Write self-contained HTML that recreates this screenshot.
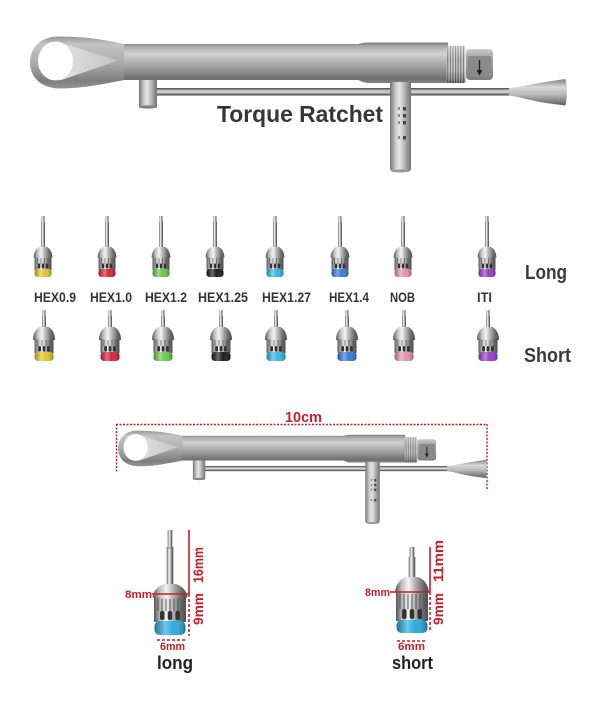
<!DOCTYPE html>
<html><head><meta charset="utf-8"><style>
html,body{margin:0;padding:0;background:#fff;}
svg{display:block;}
text{font-family:"Liberation Sans",Arial,sans-serif;font-weight:bold;}
</style></head><body>
<svg width="600" height="707" viewBox="0 0 600 707" xmlns="http://www.w3.org/2000/svg">
<defs>
<linearGradient id="tubeG" x1="0" y1="0" x2="0" y2="1">
<stop offset="0" stop-color="#7e7e7e"/><stop offset="0.1" stop-color="#ababab"/><stop offset="0.28" stop-color="#d2d2d2"/><stop offset="0.48" stop-color="#b2b2b2"/><stop offset="0.72" stop-color="#8e8e8e"/><stop offset="0.9" stop-color="#6e6e6e"/><stop offset="1" stop-color="#858585"/>
</linearGradient>
<linearGradient id="headG" x1="0" y1="0" x2="0" y2="1">
<stop offset="0" stop-color="#979797"/><stop offset="0.15" stop-color="#c4c4c4"/><stop offset="0.5" stop-color="#acacac"/><stop offset="0.85" stop-color="#7e7e7e"/><stop offset="1" stop-color="#959595"/>
</linearGradient>
<linearGradient id="faceG" x1="0" y1="0" x2="1" y2="0">
<stop offset="0" stop-color="#e4e4e4"/><stop offset="1" stop-color="#c2c2c2"/>
</linearGradient>
<linearGradient id="cylH" x1="0" y1="0" x2="1" y2="0">
<stop offset="0" stop-color="#747474"/><stop offset="0.25" stop-color="#c6c6c6"/><stop offset="0.45" stop-color="#e6e6e6"/><stop offset="0.7" stop-color="#b2b2b2"/><stop offset="1" stop-color="#707070"/>
</linearGradient>
<linearGradient id="rodG" x1="0" y1="0" x2="0" y2="1">
<stop offset="0" stop-color="#444"/><stop offset="0.3" stop-color="#b4b4b4"/><stop offset="0.55" stop-color="#dcdcdc"/><stop offset="0.8" stop-color="#808080"/><stop offset="1" stop-color="#363636"/>
</linearGradient>
<linearGradient id="nozG" x1="0" y1="0" x2="0" y2="1">
<stop offset="0" stop-color="#7e7e7e"/><stop offset="0.3" stop-color="#d8d8d8"/><stop offset="0.6" stop-color="#b6b6b6"/><stop offset="1" stop-color="#5e5e5e"/>
</linearGradient>
<linearGradient id="hexG" x1="0" y1="0" x2="0" y2="1">
<stop offset="0" stop-color="#cccccc"/><stop offset="0.25" stop-color="#a8a8a8"/><stop offset="1" stop-color="#7e7e7e"/>
</linearGradient>
<linearGradient id="shadeV" x1="0" y1="0" x2="0" y2="1">
<stop offset="0" stop-color="#fff" stop-opacity="0.35"/><stop offset="0.4" stop-color="#fff" stop-opacity="0"/><stop offset="1" stop-color="#000" stop-opacity="0.4"/>
</linearGradient>
<pattern id="knurl" width="2.6" height="4" patternUnits="userSpaceOnUse">
<rect width="2.6" height="4" fill="#cdcdcd"/><rect width="1.1" height="4" fill="#727272"/>
</pattern>
<linearGradient id="drvG" x1="0" y1="0" x2="1" y2="0">
<stop offset="0" stop-color="#555"/><stop offset="0.2" stop-color="#bebebe"/><stop offset="0.4" stop-color="#f4f4f4"/><stop offset="0.6" stop-color="#b0b0b0"/><stop offset="0.85" stop-color="#666"/><stop offset="1" stop-color="#4e4e4e"/>
</linearGradient>
<linearGradient id="capSh" x1="0" y1="0" x2="1" y2="0">
<stop offset="0" stop-color="#000" stop-opacity="0.3"/><stop offset="0.35" stop-color="#fff" stop-opacity="0.35"/><stop offset="0.6" stop-color="#fff" stop-opacity="0"/><stop offset="1" stop-color="#000" stop-opacity="0.35"/>
</linearGradient>

<g id="ratchet">
 <rect x="148" y="88" width="364" height="7.5" fill="url(#rodG)"/>
 <rect x="139" y="74" width="18" height="34" rx="2" fill="url(#cylH)"/>
 <ellipse cx="148" cy="107" rx="9" ry="1.6" fill="#808080"/>
 <path d="M112,44 L358,44 C362,43 364,42.5 368,42.5 L448,42.5 L448,83 L368,83 C364,83 361,81 358,80 L112,80 Z" fill="url(#tubeG)"/>
 <path d="M124,44 C102,39 82,36.5 58,36.5 C40,36.5 30,49 30,62 C30,78 42,88.5 60,88.5 C82,88.5 104,84 124,80 Z" fill="url(#headG)"/>
 <path d="M58,42 L118,60.5 L60,80.5 Z" fill="url(#faceG)"/>
 <ellipse cx="55.5" cy="61" rx="17.5" ry="19.5" fill="#fff"/>
 <path d="M390,82 L411,82 L411,168 Q411,172 406,172 L395,172 Q390,172 390,168 Z" fill="url(#cylH)"/>
 <ellipse cx="400.5" cy="171" rx="9" ry="1.5" fill="#999"/>
 <g fill="#444">
  <rect x="403" y="107" width="3" height="3.5"/><rect x="403" y="114" width="3" height="3.5"/><rect x="403" y="121" width="3" height="3.5"/><rect x="403" y="136" width="3" height="3.5"/>
 </g>
 <g fill="#888">
  <rect x="398" y="107" width="2" height="3"/><rect x="398" y="114" width="2" height="3"/><rect x="398" y="121" width="2" height="3"/><rect x="398" y="136" width="2" height="3"/>
 </g>
 <rect x="446.5" y="46" width="19" height="37" rx="2" fill="url(#knurl)"/>
 <rect x="446.5" y="46" width="19" height="37" rx="2" fill="url(#shadeV)"/>
 <rect x="466" y="49" width="27" height="31" rx="4" fill="url(#hexG)"/>
 <rect x="468" y="56" width="23" height="21" rx="2" fill="#8a8a8a"/>
 <line x1="479.5" y1="60" x2="479.5" y2="72" stroke="#222" stroke-width="1.4"/>
 <polygon points="476.5,70 482.5,70 479.5,75.5" fill="#222"/>
 <path d="M509,88 C520,87 532,84 546,82 L565,79 C567.5,80 567.5,104 565,105.5 L546,103 C532,101 520,97 509,95.5 Z" fill="url(#nozG)"/>
</g>

<g id="dl">
 <rect x="-1.5" y="216" width="3" height="7" fill="url(#drvG)"/>
 <rect x="-2" y="222" width="4" height="27" fill="url(#drvG)"/>
 <path d="M-4,247 C-7,248.5 -9,252 -9.5,257.5 L9.5,257.5 C9,252 7,248.5 4,247 Z" fill="url(#drvG)"/>
 <rect x="-8.5" y="257" width="17" height="13" fill="url(#drvG)"/>
 <g stroke="#555" stroke-width="0.7"><line x1="-5.5" y1="258" x2="-5.5" y2="264"/><line x1="-2" y1="258" x2="-2" y2="264"/><line x1="1.5" y1="258" x2="1.5" y2="264"/><line x1="5" y1="258" x2="5" y2="264"/></g>
 <rect x="-5.3" y="263.5" width="2.6" height="5" rx="1.2" fill="#333"/>
 <rect x="-1.3" y="263.5" width="2.6" height="5" rx="1.2" fill="#333"/>
 <rect x="2.7" y="263.5" width="2.6" height="5" rx="1.2" fill="#333"/>
</g>
<g id="ds">
 <rect x="-1.5" y="310" width="3" height="7" fill="url(#drvG)"/>
 <rect x="-2" y="316" width="4" height="13" fill="url(#drvG)"/>
 <path d="M-4.5,327 C-8,329 -11,333 -11,340 L11,340 C11,333 8,329 4.5,327 Z" fill="url(#drvG)"/>
 <rect x="-9.5" y="339" width="19" height="14" fill="url(#drvG)"/>
 <g stroke="#555" stroke-width="0.7"><line x1="-6" y1="340" x2="-6" y2="346"/><line x1="-2" y1="340" x2="-2" y2="346"/><line x1="2" y1="340" x2="2" y2="346"/><line x1="6" y1="340" x2="6" y2="346"/></g>
 <rect x="-5.8" y="346" width="2.8" height="5.5" rx="1.3" fill="#333"/>
 <rect x="-1.4" y="346" width="2.8" height="5.5" rx="1.3" fill="#333"/>
 <rect x="3" y="346" width="2.8" height="5.5" rx="1.3" fill="#333"/>
</g>
</defs>

<rect width="600" height="707" fill="#fff"/>

<!-- top ratchet -->
<use href="#ratchet"/>
<text x="217" y="122" font-size="23" fill="#363636" textLength="166" lengthAdjust="spacingAndGlyphs">Torque Ratchet</text>

<!-- long row -->
<use href="#dl" x="43"/><rect x="34.5" y="269" width="17" height="8" rx="3" fill="#e6c52e"/><rect x="34.5" y="269" width="17" height="8" rx="3" fill="url(#capSh)"/>
<use href="#dl" x="107"/><rect x="98.5" y="269" width="17" height="8" rx="3" fill="#d2263a"/><rect x="98.5" y="269" width="17" height="8" rx="3" fill="url(#capSh)"/>
<use href="#dl" x="161"/><rect x="152.5" y="269" width="17" height="8" rx="3" fill="#6cc84e"/><rect x="152.5" y="269" width="17" height="8" rx="3" fill="url(#capSh)"/>
<use href="#dl" x="215"/><rect x="206.5" y="269" width="17" height="8" rx="3" fill="#1c1c1c"/><rect x="206.5" y="269" width="17" height="8" rx="3" fill="url(#capSh)"/>
<use href="#dl" x="275"/><rect x="266.5" y="269" width="17" height="8" rx="3" fill="#36b8e2"/><rect x="266.5" y="269" width="17" height="8" rx="3" fill="url(#capSh)"/>
<use href="#dl" x="340"/><rect x="331.5" y="269" width="17" height="8" rx="3" fill="#3a7ad8"/><rect x="331.5" y="269" width="17" height="8" rx="3" fill="url(#capSh)"/>
<use href="#dl" x="403"/><rect x="394.5" y="269" width="17" height="8" rx="3" fill="#e892aa"/><rect x="394.5" y="269" width="17" height="8" rx="3" fill="url(#capSh)"/>
<use href="#dl" x="487"/><rect x="478.5" y="269" width="17" height="8" rx="3" fill="#9440c4"/><rect x="478.5" y="269" width="17" height="8" rx="3" fill="url(#capSh)"/>

<text x="525" y="279" font-size="20" fill="#3a3a3a" textLength="42" lengthAdjust="spacingAndGlyphs">Long</text>

<!-- labels -->
<g font-size="13.5" fill="#353535">
<text x="34" y="302" textLength="42" lengthAdjust="spacingAndGlyphs">HEX0.9</text>
<text x="90" y="302" textLength="42" lengthAdjust="spacingAndGlyphs">HEX1.0</text>
<text x="145" y="302" textLength="42" lengthAdjust="spacingAndGlyphs">HEX1.2</text>
<text x="198" y="302" textLength="50" lengthAdjust="spacingAndGlyphs">HEX1.25</text>
<text x="262" y="302" textLength="49" lengthAdjust="spacingAndGlyphs">HEX1.27</text>
<text x="329" y="302" textLength="40" lengthAdjust="spacingAndGlyphs">HEX1.4</text>
<text x="390" y="302" textLength="25" lengthAdjust="spacingAndGlyphs">NOB</text>
<text x="477" y="302" textLength="15" lengthAdjust="spacingAndGlyphs">ITI</text>
</g>

<!-- short row -->
<use href="#ds" x="44"/><rect x="34.5" y="352" width="19" height="9" rx="3.5" fill="#e6c52e"/><rect x="34.5" y="352" width="19" height="9" rx="3.5" fill="url(#capSh)"/>
<use href="#ds" x="110"/><rect x="100.5" y="352" width="19" height="9" rx="3.5" fill="#d2263a"/><rect x="100.5" y="352" width="19" height="9" rx="3.5" fill="url(#capSh)"/>
<use href="#ds" x="163"/><rect x="153.5" y="352" width="19" height="9" rx="3.5" fill="#6cc84e"/><rect x="153.5" y="352" width="19" height="9" rx="3.5" fill="url(#capSh)"/>
<use href="#ds" x="221"/><rect x="211.5" y="352" width="19" height="9" rx="3.5" fill="#1c1c1c"/><rect x="211.5" y="352" width="19" height="9" rx="3.5" fill="url(#capSh)"/>
<use href="#ds" x="276"/><rect x="266.5" y="352" width="19" height="9" rx="3.5" fill="#36b8e2"/><rect x="266.5" y="352" width="19" height="9" rx="3.5" fill="url(#capSh)"/>
<use href="#ds" x="347"/><rect x="337.5" y="352" width="19" height="9" rx="3.5" fill="#3a7ad8"/><rect x="337.5" y="352" width="19" height="9" rx="3.5" fill="url(#capSh)"/>
<use href="#ds" x="404"/><rect x="394.5" y="352" width="19" height="9" rx="3.5" fill="#e892aa"/><rect x="394.5" y="352" width="19" height="9" rx="3.5" fill="url(#capSh)"/>
<use href="#ds" x="488"/><rect x="478.5" y="352" width="19" height="9" rx="3.5" fill="#9440c4"/><rect x="478.5" y="352" width="19" height="9" rx="3.5" fill="url(#capSh)"/>

<text x="524" y="362" font-size="20" fill="#3a3a3a" textLength="47" lengthAdjust="spacingAndGlyphs">Short</text>

<!-- 10cm dimension -->
<text x="285" y="422" font-size="15" fill="#c41e2a" textLength="37" lengthAdjust="spacingAndGlyphs">10cm</text>
<g stroke="#c41e2a" stroke-width="1.4" stroke-dasharray="2 1.5" fill="none">
<line x1="116" y1="424.5" x2="487" y2="424.5"/>
<line x1="116.5" y1="424" x2="116.5" y2="472"/>
<line x1="487" y1="424" x2="487" y2="490"/>
</g>

<!-- bottom ratchet -->
<use href="#ratchet" transform="translate(97.4,405.5) scale(0.687)"/>

<!-- big long driver -->
<g transform="translate(170,0)">
 <rect x="-2.3" y="530" width="4.6" height="19" fill="url(#drvG)"/>
 <rect x="-3.3" y="547" width="6.6" height="40" fill="url(#drvG)"/>
 <line x1="-3.3" y1="548" x2="3.3" y2="548" stroke="#777" stroke-width="0.8"/>
 <path d="M-6,584 C-12,586 -17,591 -17.5,597.5 L17.5,597.5 C17,591 12,586 6,584 Z" fill="url(#drvG)"/>
 <rect x="-16" y="597" width="32" height="25" fill="url(#drvG)"/>
 <g stroke="#555" stroke-width="1"><line x1="-12" y1="599" x2="-12" y2="611"/><line x1="-8" y1="599" x2="-8" y2="611"/><line x1="-4" y1="599" x2="-4" y2="611"/><line x1="0" y1="599" x2="0" y2="611"/><line x1="4" y1="599" x2="4" y2="611"/><line x1="8" y1="599" x2="8" y2="611"/><line x1="12" y1="599" x2="12" y2="611"/></g>
 <rect x="-10" y="611" width="4.5" height="9" rx="2" fill="#333"/>
 <rect x="-2.25" y="611" width="4.5" height="9" rx="2" fill="#333"/>
 <rect x="5.5" y="611" width="4.5" height="9" rx="2" fill="#333"/>
 <rect x="-15.5" y="621" width="31" height="14" rx="5" fill="#2aaade"/>
 <rect x="-15.5" y="621" width="31" height="14" rx="5" fill="url(#capSh)"/>
</g>

<!-- big short driver -->
<g transform="translate(412,0)">
 <rect x="-2.3" y="547" width="4.6" height="12" fill="url(#drvG)"/>
 <rect x="-3.3" y="557" width="6.6" height="22" fill="url(#drvG)"/>
 <path d="M-6,577 C-12,579 -16.5,585 -17,592.5 L17,592.5 C16.5,585 12,579 6,577 Z" fill="url(#drvG)"/>
 <rect x="-16" y="592" width="32" height="29" fill="url(#drvG)"/>
 <g stroke="#555" stroke-width="1"><line x1="-12" y1="594" x2="-12" y2="609"/><line x1="-8" y1="594" x2="-8" y2="609"/><line x1="-4" y1="594" x2="-4" y2="609"/><line x1="0" y1="594" x2="0" y2="609"/><line x1="4" y1="594" x2="4" y2="609"/><line x1="8" y1="594" x2="8" y2="609"/><line x1="12" y1="594" x2="12" y2="609"/></g>
 <rect x="-10" y="609" width="4.5" height="10" rx="2" fill="#333"/>
 <rect x="-2.25" y="609" width="4.5" height="10" rx="2" fill="#333"/>
 <rect x="5.5" y="609" width="4.5" height="10" rx="2" fill="#333"/>
 <rect x="-15.5" y="620" width="31" height="13" rx="5" fill="#2aaade"/>
 <rect x="-15.5" y="620" width="31" height="13" rx="5" fill="url(#capSh)"/>
</g>

<!-- dimensions -->
<g stroke="#c41e2a" stroke-width="1.6" fill="none">
<line x1="189" y1="530" x2="189" y2="594"/>
<line x1="152" y1="594" x2="189" y2="594"/>
<line x1="189" y1="594" x2="189" y2="636" stroke-dasharray="3 2"/>
<line x1="157" y1="640" x2="187" y2="640" stroke-dasharray="3 2"/>
<line x1="390" y1="592" x2="430" y2="592"/>
<line x1="430" y1="547" x2="430" y2="592"/>
<line x1="430" y1="592" x2="430" y2="632" stroke-dasharray="3 2"/>
<line x1="397" y1="641" x2="425" y2="641" stroke-dasharray="3 2"/>
</g>
<g fill="#c41e2a">
<text x="125" y="598" font-size="11" textLength="27" lengthAdjust="spacingAndGlyphs">8mm</text>
<text transform="translate(203,565) rotate(-90)" text-anchor="middle" font-size="14" textLength="36" lengthAdjust="spacingAndGlyphs">16mm</text>
<text transform="translate(203,609) rotate(-90)" text-anchor="middle" font-size="14" textLength="32" lengthAdjust="spacingAndGlyphs">9mm</text>
<text x="160" y="650" font-size="11" textLength="25" lengthAdjust="spacingAndGlyphs">6mm</text>
<text x="365" y="596" font-size="11" textLength="25" lengthAdjust="spacingAndGlyphs">8mm</text>
<text transform="translate(443,561) rotate(-90)" text-anchor="middle" font-size="14" textLength="42" lengthAdjust="spacingAndGlyphs">11mm</text>
<text transform="translate(443,609) rotate(-90)" text-anchor="middle" font-size="14" textLength="32" lengthAdjust="spacingAndGlyphs">9mm</text>
<text x="398" y="650" font-size="11" textLength="27" lengthAdjust="spacingAndGlyphs">6mm</text>
</g>
<text x="157" y="669" font-size="18" fill="#222" textLength="36" lengthAdjust="spacingAndGlyphs">long</text>
<text x="392" y="669" font-size="18" fill="#222" textLength="41" lengthAdjust="spacingAndGlyphs">short</text>
</svg>
</body></html>
